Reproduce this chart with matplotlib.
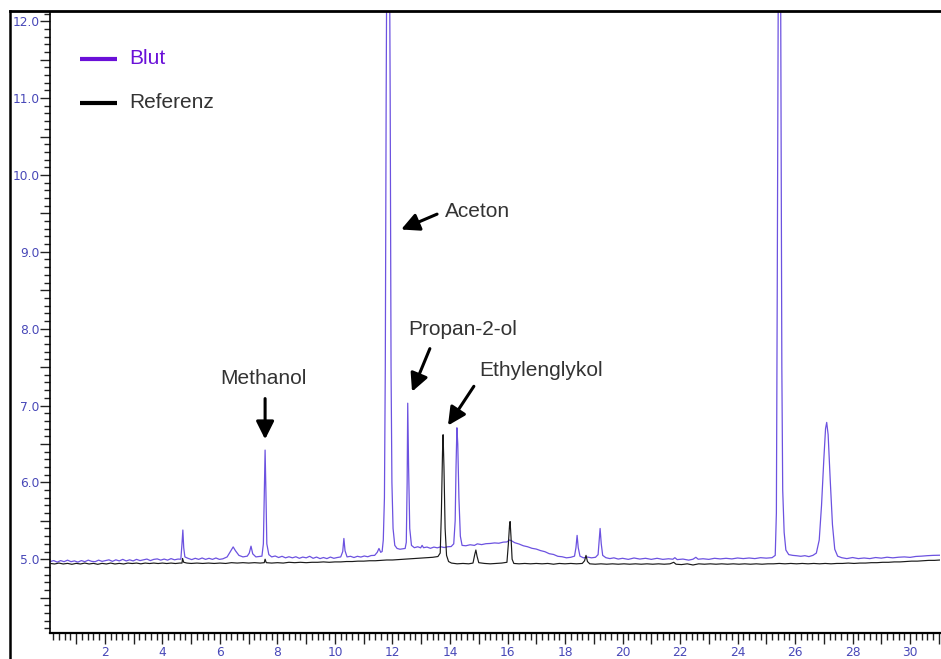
import matplotlib
matplotlib.use("Agg")
import matplotlib.pyplot as plt
from matplotlib.lines import Line2D
from matplotlib.ticker import MultipleLocator, FuncFormatter

# ---------------- data (retention time [min], signal) ----------------
blut_points = [
    (0.10, 4.970), (0.22, 4.982), (0.34, 4.962), (0.46, 4.982), (0.58, 4.968), (0.70, 4.988),
    (0.82, 4.968), (0.94, 4.978), (1.06, 4.962), (1.18, 4.982), (1.30, 4.968), (1.42, 4.988),
    (1.54, 4.972), (1.66, 4.968), (1.78, 4.988), (1.90, 4.972), (2.02, 4.982), (2.14, 4.992),
    (2.26, 4.972), (2.38, 4.992), (2.50, 4.978), (2.62, 4.998), (2.74, 4.978), (2.86, 4.992),
    (2.98, 4.978), (3.10, 4.998), (3.22, 4.982), (3.34, 4.992), (3.46, 5.002), (3.58, 4.982),
    (3.70, 4.998), (3.82, 5.004), (3.94, 4.988), (4.06, 5.002), (4.18, 4.988), (4.30, 5.008),
    (4.42, 4.992), (4.54, 5.002), (4.64, 5.000), (4.68, 5.200), (4.71, 5.380), (4.74, 5.150),
    (4.78, 5.030), (4.90, 5.010), (5.02, 4.995), (5.14, 5.012), (5.26, 4.998), (5.38, 5.016),
    (5.50, 4.998), (5.62, 5.012), (5.74, 4.998), (5.86, 5.016), (5.98, 4.998), (6.10, 5.005),
    (6.25, 5.030), (6.38, 5.110), (6.46, 5.160), (6.54, 5.110), (6.66, 5.050), (6.80, 5.030),
    (6.95, 5.040), (7.02, 5.080), (7.08, 5.170), (7.14, 5.070), (7.25, 5.030), (7.36, 5.035),
    (7.46, 5.040), (7.51, 5.200), (7.54, 5.800), (7.57, 6.420), (7.60, 5.850), (7.63, 5.200),
    (7.70, 5.060), (7.80, 5.030), (7.92, 5.042), (8.04, 5.022), (8.16, 5.038), (8.28, 5.018),
    (8.40, 5.032), (8.52, 5.018), (8.64, 5.032), (8.76, 5.012), (8.88, 5.028), (9.00, 5.018),
    (9.12, 5.038), (9.24, 5.012), (9.36, 5.028), (9.48, 5.008), (9.60, 5.022), (9.72, 5.008),
    (9.84, 5.028), (9.96, 5.012), (10.08, 5.022), (10.20, 5.030), (10.27, 5.100), (10.31, 5.270),
    (10.35, 5.110), (10.42, 5.030), (10.54, 5.038), (10.66, 5.022), (10.78, 5.038), (10.90, 5.028),
    (11.02, 5.042), (11.14, 5.032), (11.26, 5.048), (11.38, 5.050), (11.47, 5.090), (11.53, 5.140),
    (11.59, 5.090), (11.64, 5.100), (11.68, 5.250), (11.72, 5.800), (11.75, 7.500), (11.78, 11.00),
    (11.81, 13.50), (11.89, 13.50), (11.92, 11.00), (11.95, 7.500), (11.98, 6.000), (12.02, 5.400),
    (12.08, 5.180), (12.16, 5.140), (12.26, 5.130), (12.36, 5.135), (12.44, 5.140), (12.48, 5.220),
    (12.51, 6.000), (12.53, 7.030), (12.56, 6.200), (12.60, 5.400), (12.66, 5.180), (12.76, 5.150),
    (12.88, 5.162), (12.98, 5.148), (13.03, 5.180), (13.08, 5.150), (13.20, 5.158), (13.32, 5.142),
    (13.44, 5.158), (13.56, 5.148), (13.68, 5.162), (13.80, 5.152), (13.92, 5.162), (14.04, 5.165),
    (14.13, 5.200), (14.18, 5.500), (14.21, 6.200), (14.24, 6.710), (14.27, 6.500), (14.31, 5.800),
    (14.36, 5.300), (14.42, 5.180), (14.55, 5.175), (14.70, 5.188), (14.85, 5.180), (14.95, 5.200),
    (15.10, 5.190), (15.25, 5.202), (15.40, 5.205), (15.55, 5.212), (15.70, 5.208), (15.85, 5.222),
    (15.98, 5.225), (16.07, 5.250), (16.14, 5.240), (16.25, 5.215), (16.40, 5.198), (16.55, 5.175),
    (16.70, 5.162), (16.85, 5.142), (17.00, 5.132), (17.15, 5.112), (17.30, 5.098), (17.45, 5.072),
    (17.60, 5.062), (17.75, 5.038), (17.90, 5.032), (18.05, 5.018), (18.20, 5.025), (18.33, 5.040),
    (18.38, 5.150), (18.42, 5.310), (18.46, 5.150), (18.52, 5.040), (18.64, 5.018), (18.78, 5.028),
    (18.92, 5.018), (19.06, 5.025), (19.15, 5.060), (19.19, 5.250), (19.22, 5.400), (19.26, 5.200),
    (19.31, 5.050), (19.42, 5.020), (19.56, 5.008), (19.70, 5.018), (19.85, 5.002), (20.00, 5.012),
    (20.20, 4.998), (20.40, 5.016), (20.60, 5.002), (20.80, 5.012), (21.00, 4.998), (21.20, 5.012),
    (21.40, 4.998), (21.60, 5.006), (21.75, 5.000), (21.82, 5.020), (21.90, 4.995), (22.10, 5.002),
    (22.30, 4.988), (22.45, 5.000), (22.55, 5.025), (22.63, 5.000), (22.80, 5.006), (23.00, 4.998),
    (23.20, 5.012), (23.40, 5.004), (23.60, 5.012), (23.80, 5.004), (24.00, 5.016), (24.20, 5.008),
    (24.40, 5.016), (24.60, 5.008), (24.80, 5.020), (25.00, 5.014), (25.20, 5.020), (25.31, 5.050),
    (25.35, 5.600), (25.38, 8.500), (25.41, 12.00), (25.43, 13.50), (25.49, 13.50), (25.51, 11.00),
    (25.54, 7.500), (25.57, 5.900), (25.62, 5.350), (25.68, 5.120), (25.78, 5.060), (25.92, 5.050),
    (26.06, 5.045), (26.20, 5.038), (26.34, 5.046), (26.48, 5.034), (26.62, 5.050), (26.74, 5.080),
    (26.84, 5.250), (26.92, 5.700), (27.00, 6.300), (27.06, 6.700), (27.10, 6.780), (27.15, 6.620),
    (27.22, 6.050), (27.30, 5.450), (27.38, 5.130), (27.48, 5.040), (27.62, 5.020), (27.80, 5.008),
    (28.00, 5.022), (28.20, 5.008), (28.40, 5.016), (28.60, 5.008), (28.80, 5.022), (29.00, 5.014),
    (29.20, 5.026), (29.40, 5.018), (29.60, 5.026), (29.80, 5.030), (30.00, 5.024), (30.20, 5.036),
    (30.40, 5.040), (30.60, 5.046), (30.80, 5.050), (31.05, 5.052),
]

referenz_points = [
    (0.10, 4.945), (0.25, 4.938), (0.40, 4.950), (0.55, 4.938), (0.70, 4.946), (0.85, 4.934),
    (1.00, 4.946), (1.15, 4.938), (1.30, 4.950), (1.45, 4.938), (1.60, 4.946), (1.75, 4.934),
    (1.90, 4.946), (2.05, 4.938), (2.20, 4.950), (2.35, 4.938), (2.50, 4.946), (2.65, 4.938),
    (2.80, 4.950), (2.95, 4.944), (3.10, 4.950), (3.25, 4.940), (3.40, 4.950), (3.55, 4.944),
    (3.70, 4.950), (3.85, 4.944), (4.00, 4.950), (4.15, 4.944), (4.30, 4.950), (4.45, 4.944),
    (4.60, 4.950), (4.68, 4.950), (4.70, 5.010), (4.74, 4.960), (4.85, 4.950), (5.00, 4.945),
    (5.20, 4.950), (5.40, 4.945), (5.60, 4.950), (5.80, 4.945), (6.00, 4.950), (6.20, 4.945),
    (6.40, 4.955), (6.60, 4.950), (6.80, 4.955), (7.00, 4.950), (7.20, 4.955), (7.40, 4.950),
    (7.54, 4.955), (7.57, 5.000), (7.61, 4.955), (7.80, 4.950), (8.00, 4.955), (8.20, 4.950),
    (8.40, 4.960), (8.60, 4.955), (8.80, 4.960), (9.00, 4.955), (9.20, 4.960), (9.40, 4.960),
    (9.60, 4.965), (9.80, 4.960), (10.00, 4.965), (10.20, 4.965), (10.40, 4.970), (10.60, 4.970),
    (10.80, 4.975), (11.00, 4.975), (11.20, 4.980), (11.40, 4.980), (11.60, 4.985), (11.80, 4.990),
    (12.00, 4.990), (12.20, 4.995), (12.40, 5.000), (12.60, 5.005), (12.80, 5.010), (13.00, 5.015),
    (13.20, 5.020), (13.40, 5.025), (13.58, 5.035), (13.66, 5.080), (13.70, 5.600), (13.74, 6.400),
    (13.76, 6.620), (13.79, 6.200), (13.83, 5.400), (13.88, 5.050), (13.95, 4.970), (14.05, 4.950),
    (14.25, 4.940), (14.45, 4.945), (14.65, 4.940), (14.80, 4.950), (14.86, 5.060), (14.90, 5.120),
    (14.94, 5.040), (15.00, 4.955), (15.20, 4.945), (15.40, 4.940), (15.60, 4.945), (15.80, 4.950),
    (15.98, 4.960), (16.03, 5.200), (16.07, 5.440), (16.09, 5.490), (16.12, 5.300), (16.16, 5.000),
    (16.22, 4.945), (16.40, 4.940), (16.60, 4.945), (16.80, 4.940), (17.00, 4.945), (17.20, 4.940),
    (17.40, 4.945), (17.60, 4.935), (17.80, 4.945), (18.00, 4.940), (18.20, 4.945), (18.40, 4.940),
    (18.60, 4.945), (18.68, 4.980), (18.73, 5.050), (18.78, 4.970), (18.86, 4.940), (19.05, 4.935),
    (19.25, 4.940), (19.45, 4.935), (19.65, 4.940), (19.85, 4.935), (20.05, 4.940), (20.25, 4.935),
    (20.45, 4.940), (20.65, 4.935), (20.85, 4.940), (21.05, 4.935), (21.25, 4.940), (21.45, 4.935),
    (21.65, 4.940), (21.78, 4.960), (21.86, 4.935), (22.05, 4.930), (22.25, 4.940), (22.45, 4.925),
    (22.65, 4.940), (22.85, 4.935), (23.05, 4.940), (23.25, 4.935), (23.45, 4.940), (23.65, 4.935),
    (23.85, 4.940), (24.05, 4.935), (24.25, 4.940), (24.45, 4.935), (24.65, 4.940), (24.85, 4.935),
    (25.05, 4.940), (25.25, 4.940), (25.45, 4.945), (25.65, 4.940), (25.85, 4.945), (26.05, 4.940),
    (26.25, 4.945), (26.45, 4.940), (26.65, 4.945), (26.85, 4.940), (27.05, 4.945), (27.25, 4.940),
    (27.45, 4.945), (27.65, 4.945), (27.85, 4.950), (28.05, 4.945), (28.25, 4.950), (28.45, 4.950),
    (28.65, 4.955), (28.85, 4.955), (29.05, 4.960), (29.25, 4.960), (29.45, 4.965), (29.65, 4.965),
    (29.85, 4.970), (30.05, 4.975), (30.25, 4.975), (30.45, 4.980), (30.65, 4.985), (30.85, 4.985),
    (31.05, 4.990),
]

series_names = ["Blut", "Referenz"]
peak_labels = ["Methanol", "Aceton", "Propan-2-ol", "Ethylenglykol"]

# ---------------- figure ----------------
W, H, DPI = 941, 659, 100
fig = plt.figure(figsize=(W / DPI, H / DPI), dpi=DPI, facecolor="white")


def fx(px):
    return px / W


def fy(py):
    return 1 - py / H


ax = fig.add_axes([fx(50), fy(633), fx(940) - fx(50), fy(12) - fy(633)])
ax.set_facecolor("white")

blut_color = "#6c52e0"
ref_color = "#1a1a1a"

bt = [p[0] for p in blut_points]
bv = [p[1] for p in blut_points]
rt = [p[0] for p in referenz_points]
rv = [p[1] for p in referenz_points]

ax.plot(rt, rv, color=ref_color, lw=0.85, zorder=3)
ax.plot(bt, bv, color=blut_color, lw=0.9, zorder=2)

ax.set_xlim(0.09, 31.04)
ax.set_ylim(4.04, 12.12)

# spines
for s in ("top", "right"):
    ax.spines[s].set_visible(False)
ax.spines["left"].set_linewidth(1.2)
ax.spines["bottom"].set_linewidth(1.6)

tick_col = "#4848b8"
ax.yaxis.set_major_locator(MultipleLocator(0.5))
ax.yaxis.set_minor_locator(MultipleLocator(0.1))
ax.yaxis.set_major_formatter(FuncFormatter(
    lambda v, p: f"{v:.1f}" if abs(v - round(v)) < 1e-6 and v >= 5 else ""))
ax.xaxis.set_major_locator(MultipleLocator(1))
ax.xaxis.set_minor_locator(MultipleLocator(0.2))
ax.xaxis.set_major_formatter(FuncFormatter(
    lambda v, p: f"{int(round(v))}" if abs(v - round(v)) < 1e-6 and int(round(v)) % 2 == 0 and v > 1 else ""))

ax.tick_params(axis="y", which="major", direction="out", length=7, width=1.0,
               pad=0.5, labelsize=8.8, labelcolor=tick_col, color="#222222")
ax.tick_params(axis="y", which="minor", direction="out", length=4.5, width=1.0, color="#222222")
ax.tick_params(axis="x", which="major", direction="out", length=8, width=1.0,
               pad=1.0, labelsize=8.8, labelcolor=tick_col, color="#222222")
ax.tick_params(axis="x", which="minor", direction="out", length=5, width=1.0, color="#222222")

# outer frame lines (top and left)
fig.add_artist(Line2D([fx(10), 1.0], [fy(11), fy(11)], transform=fig.transFigure,
                      color="black", lw=2.0))
fig.add_artist(Line2D([fx(10), fx(10)], [fy(11), 0.0], transform=fig.transFigure,
                      color="black", lw=1.8))

# legend (manual)
font = ["Liberation Sans", "DejaVu Sans"]
fig.add_artist(Line2D([fx(80), fx(117)], [fy(59), fy(59)], transform=fig.transFigure,
                      color="#6a10d8", lw=3.0, solid_capstyle="butt"))
fig.text(fx(129), fy(58), series_names[0], color="#6a10d8", fontsize=15,
         family=font, va="center", ha="left")
fig.add_artist(Line2D([fx(80), fx(117)], [fy(103), fy(103)], transform=fig.transFigure,
                      color="black", lw=3.0, solid_capstyle="butt"))
fig.text(fx(129), fy(102), series_names[1], color="#333333", fontsize=15,
         family=font, va="center", ha="left")

# annotations
txt_col = "#333333"
arrow_kw = dict(arrowstyle="-|>,head_length=0.9,head_width=0.45", color="black",
                lw=2.2, shrinkA=0, shrinkB=0, mutation_scale=12)

# Methanol
ax.text(7.50, 7.35, peak_labels[0], color=txt_col, fontsize=15, family=font,
        ha="center", va="center")
ax.annotate("", xy=(7.57, 6.56), xytext=(7.57, 7.09), arrowprops=arrow_kw)
# Aceton
ax.text(13.83, 9.52, peak_labels[1], color=txt_col, fontsize=15, family=font,
        ha="left", va="center")
ax.annotate("", xy=(12.30, 9.29), xytext=(13.55, 9.49), arrowprops=arrow_kw)
# Propan-2-ol
ax.text(12.54, 7.99, peak_labels[2], color=txt_col, fontsize=15, family=font,
        ha="left", va="center")
ax.annotate("", xy=(12.68, 7.18), xytext=(13.30, 7.74), arrowprops=arrow_kw)
# Ethylenglykol
ax.text(15.01, 7.45, peak_labels[3], color=txt_col, fontsize=15, family=font,
        ha="left", va="center")
ax.annotate("", xy=(13.93, 6.74), xytext=(14.83, 7.25), arrowprops=arrow_kw)

fig.savefig("out.png", dpi=DPI, facecolor="white")
